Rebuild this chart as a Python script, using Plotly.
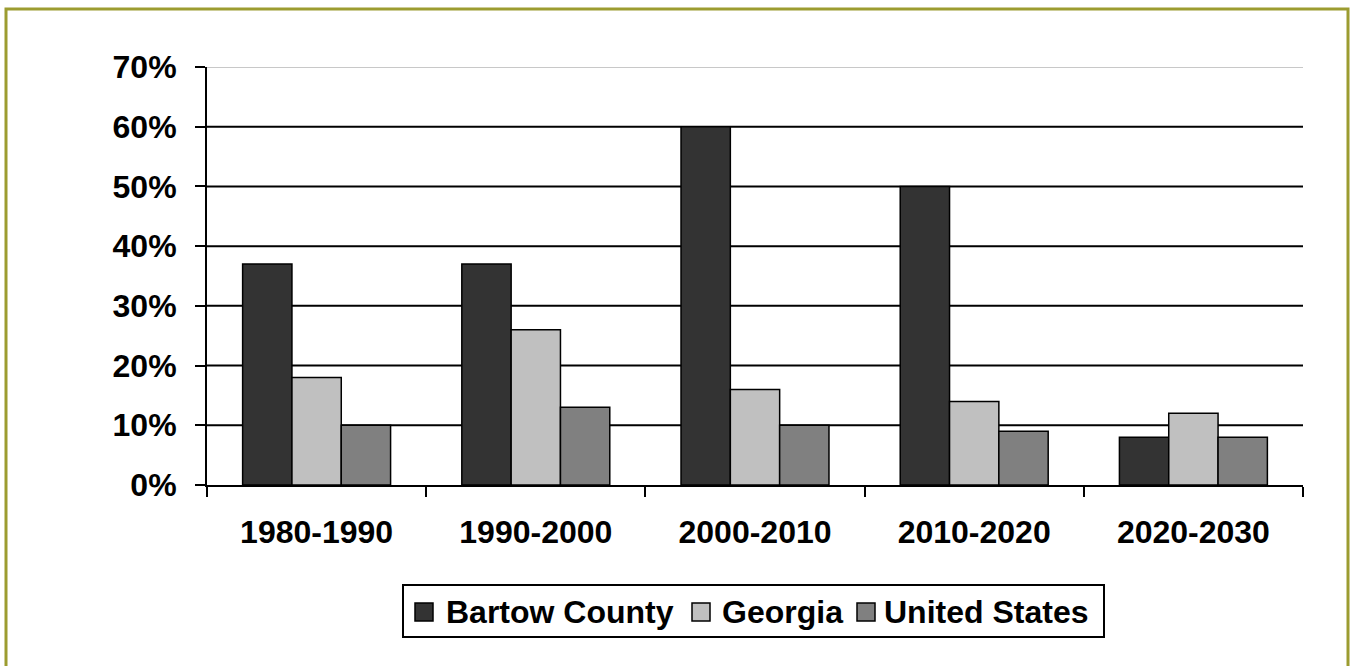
import plotly.graph_objects as go

# Population growth by decade
periods = ["1980-1990", "1990-2000", "2000-2010", "2010-2020", "2020-2030"]
bartow_county = [37, 37, 60, 50, 8]
georgia = [18, 26, 16, 14, 12]
united_states = [10, 13, 10, 9, 8]

series_names = ["Bartow County", "Georgia", "United States"]
series_values = [bartow_county, georgia, united_states]
series_colors = ["#333333", "#C0C0C0", "#808080"]

y_ticks = [0, 10, 20, 30, 40, 50, 60, 70]
y_tick_labels = [f"{v}%" for v in y_ticks]

FONT = dict(family="Arial, 'Liberation Sans', sans-serif", size=32, color="#000000", weight="bold")

# plot-area geometry in pixels, used to place the frame and the legend box
PLOT_L, PLOT_R, PLOT_T, PLOT_B = 207, 1303, 67, 485
W, H = 1351, 666


def px_x(p):
    return (p - PLOT_L) / (PLOT_R - PLOT_L)


def px_y(p):
    return (PLOT_B - p) / (PLOT_B - PLOT_T)


fig = go.Figure()

for name, vals, col in zip(series_names, series_values, series_colors):
    fig.add_trace(go.Bar(
        x=periods, y=vals, name=name,
        marker=dict(color=col, line=dict(color="#000000", width=1.5)),
        showlegend=False,
    ))

# horizontal gridlines: black, the top one light grey
for v in y_ticks[1:]:
    fig.add_shape(type="line", xref="paper", yref="y", x0=0, x1=1, y0=v, y1=v,
                  line=dict(color="#C8C8C8" if v == y_ticks[-1] else "#000000", width=2),
                  layer="below")

# legend: framed box with square swatches and bold labels
fig.add_shape(type="rect", xref="paper", yref="paper",
              x0=px_x(403), x1=px_x(1104), y0=px_y(637), y1=px_y(585),
              line=dict(color="#000000", width=2), fillcolor="#FFFFFF", layer="above")
swatch_left = [415, 692, 857]
text_left = [446, 722, 884]
legend_mid = 612
for name, col, sx, tx in zip(series_names, series_colors, swatch_left, text_left):
    fig.add_shape(type="rect", xref="paper", yref="paper",
                  x0=px_x(sx), x1=px_x(sx + 18), y0=px_y(legend_mid + 9), y1=px_y(legend_mid - 9),
                  line=dict(color="#000000", width=1.5), fillcolor=col, layer="above")
    fig.add_annotation(xref="paper", yref="paper", x=px_x(tx - 2), y=px_y(legend_mid),
                       xanchor="left", yanchor="middle", text=name, showarrow=False,
                       font=FONT)

# outer frame
fig.add_shape(type="rect", xref="paper", yref="paper",
              x0=px_x(6), x1=px_x(1348), y0=px_y(690), y1=px_y(9),
              line=dict(color="#9C9C30", width=3), layer="above")

fig.update_layout(
    width=W, height=H,
    margin=dict(l=PLOT_L, r=W - PLOT_R, t=PLOT_T, b=H - PLOT_B),
    paper_bgcolor="#FFFFFF", plot_bgcolor="#FFFFFF",
    barmode="group", bargap=0.325, bargroupgap=0,
    font=FONT,
    showlegend=False,
    xaxis=dict(
        showline=True, linecolor="#000000", linewidth=2,
        ticks="outside", tickson="boundaries", ticklen=10, tickwidth=2, tickcolor="#000000",
        showgrid=False, tickfont=FONT, ticklabelstandoff=18,
    ),
    yaxis=dict(
        range=[0, 70], tickmode="array", tickvals=y_ticks, ticktext=y_tick_labels,
        showline=True, linecolor="#000000", linewidth=2,
        ticks="outside", ticklen=10, tickwidth=2, tickcolor="#000000",
        showgrid=False, zeroline=False, tickfont=FONT, ticklabelstandoff=12,
    ),
)

fig.write_html("out.html")
